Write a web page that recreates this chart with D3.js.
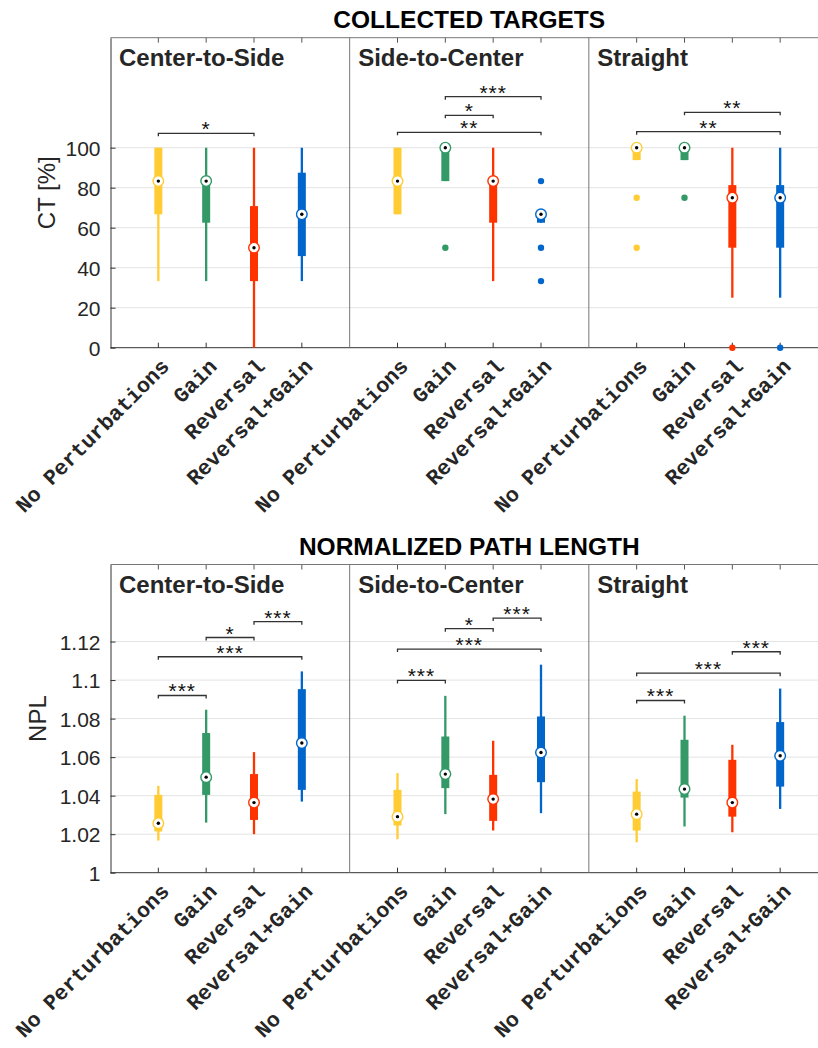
<!DOCTYPE html>
<html>
<head>
<meta charset="utf-8">
<script src="https://cdn.jsdelivr.net/npm/d3@7"></script>
<style>
  body { margin: 0; background: #fff; }
  text { font-family: "Liberation Sans", Arial, sans-serif; fill: #262626; }
  .xlab { font-family: "Liberation Mono", "Courier New", monospace; font-weight: bold; }
</style>
</head>
<body>
<div id="chart"></div>
<script>
const groups = ["Center-to-Side", "Side-to-Center", "Straight"];
const conditions = ["No Perturbations", "Gain", "Reversal", "Reversal+Gain"];
const colors = ["#ffcc33", "#339966", "#ff3300", "#0066cc"];

// collected targets (%), order: group by group, 4 conditions each
const ctLow    = [33.3, 33.3, 0, 33.3,   66.7, 83.3, 33.3, 62.5,   93.8, 93.8, 25, 25];
const ctQ1     = [66.7, 62.5, 33.3, 45.8, 66.7, 83.3, 62.5, 62.5,  93.8, 93.8, 50, 50];
const ctMedian = [83.3, 83.3, 50, 66.7,  83.3, 100, 83.3, 66.7,    100, 100, 75, 75];
const ctQ3     = [100, 83.3, 70.8, 87.5, 100, 100, 83.3, 66.7,     100, 100, 81.3, 81.3];
const ctHigh   = [100, 100, 100, 100,    100, 100, 100, 66.7,      100, 100, 100, 100];
const ctOutliers = [[], [], [], [],  [], [50], [], [83.3, 50, 33.3],  [75, 50], [75], [0], [0]];
const ctTicks = [0, 20, 40, 60, 80, 100];
// [group, from, to, level, label]
const ctSig = [
  [0, 0, 2, 107.2, "*"],
  [1, 1, 3, 125.5, "***"], [1, 1, 2, 116.2, "*"], [1, 0, 3, 107.7, "**"],
  [2, 1, 3, 117.7, "**"], [2, 0, 3, 108, "**"]
];

// normalized path length
const nplLow    = [1.0167, 1.026, 1.020, 1.0369,  1.0174, 1.0304, 1.0219, 1.0309,  1.0158, 1.024, 1.021, 1.0331];
const nplQ1     = [1.0214, 1.0404, 1.0274, 1.043, 1.0245, 1.0439, 1.0269, 1.047,   1.0219, 1.039, 1.0291, 1.0447];
const nplMedian = [1.0257, 1.0496, 1.0364, 1.0673, 1.0291, 1.0512, 1.0382, 1.0624, 1.0304, 1.0434, 1.0364, 1.0607];
const nplQ3     = [1.0404, 1.0725, 1.0512, 1.0953, 1.043, 1.0707, 1.0508, 1.0811,  1.0421, 1.069, 1.0586, 1.0782];
const nplHigh   = [1.0451, 1.0846, 1.0626, 1.1045, 1.0517, 1.0918, 1.0685, 1.108,  1.0486, 1.0815, 1.0664, 1.0956];
const nplOutliers = [[], [], [], [], [], [], [], [], [], [], [], []];
const nplTicks = [1, 1.02, 1.04, 1.06, 1.08, 1.1, 1.12];
const nplSig = [
  [0, 0, 1, 1.092, "***"], [0, 0, 3, 1.1121, "***"], [0, 1, 2, 1.1221, "*"], [0, 2, 3, 1.1303, "***"],
  [1, 0, 1, 1.0998, "***"], [1, 0, 3, 1.1161, "***"], [1, 1, 2, 1.1267, "*"], [1, 2, 3, 1.1322, "***"],
  [2, 0, 1, 1.0894, "***"], [2, 0, 3, 1.1036, "***"], [2, 2, 3, 1.1147, "***"]
];

const width = 818, height = 1048;

const svg = d3.select("#chart")
  .append("svg")
  .attr("width", width)
  .attr("height", height);

let x = d3.scaleLinear()
  .domain([-1, 14])
  .range([110.5, 828]);

const pos = i => Math.floor(i / 4) * 5 + (i % 4);

function panel(opt) {
  const g = svg.append("g");
  const y = d3.scaleLinear().domain(opt.domain).range([opt.bottom, opt.top]);
  const left = x(-1), right = x(14);

  // grid
  g.selectAll(".grid")
    .data(opt.ticks.slice(1))
    .join("line")
      .attr("x1", left).attr("x2", right)
      .attr("y1", d => y(d)).attr("y2", d => y(d))
      .attr("stroke", "#e3e3e3")
      .attr("stroke-width", 1);

  // y axis
  const yAxis = g.append("g")
    .attr("transform", `translate(${left},0)`)
    .call(d3.axisLeft(y).tickValues(opt.ticks).tickFormat(opt.format)
      .tickSize(-5).tickSizeOuter(0).tickPadding(10));
  yAxis.select(".domain").attr("stroke", "#333");
  yAxis.selectAll(".tick line").attr("stroke", "#333");
  yAxis.selectAll(".tick text")
    .style("font-size", "21px")
    .attr("fill", "#262626")
    .attr("dy", "0.36em");

  // x ticks bottom + top
  const catPos = d3.range(12).map(pos);
  g.selectAll(".xtb")
    .data(catPos)
    .join("line")
      .attr("x1", d => x(d)).attr("x2", d => x(d))
      .attr("y1", opt.bottom).attr("y2", opt.bottom - 5)
      .attr("stroke", "#333");
  g.selectAll(".xtt")
    .data(catPos)
    .join("line")
      .attr("x1", d => x(d)).attr("x2", d => x(d))
      .attr("y1", opt.top).attr("y2", opt.top + 5)
      .attr("stroke", "#555");

  // frame lines
  g.append("line").attr("x1", left).attr("x2", right)
    .attr("y1", opt.bottom).attr("y2", opt.bottom).attr("stroke", "#333");
  g.append("line").attr("x1", left).attr("x2", right)
    .attr("y1", opt.top).attr("y2", opt.top).attr("stroke", "#777");
  g.selectAll(".divider")
    .data([4, 9])
    .join("line")
      .attr("x1", d => x(d)).attr("x2", d => x(d))
      .attr("y1", opt.top).attr("y2", opt.bottom)
      .attr("stroke", "#777");

  // group names
  g.selectAll(".gname")
    .data(groups)
    .join("text")
      .attr("x", (d, i) => x(i * 5 - 1) + 8.5)
      .attr("y", opt.top + 28)
      .style("font-size", "24px")
      .style("font-weight", "bold")
      .text(d => d);

  // title
  g.append("text")
    .attr("x", (left + right) / 2)
    .attr("y", opt.top - 9.5)
    .attr("text-anchor", "middle")
    .style("font-size", "24.5px")
    .style("font-weight", "bold")
    .style("fill", "#000")
    .text(opt.title);

  // y label
  g.append("text")
    .attr("transform", `translate(${opt.labelX},${(opt.top + opt.bottom) / 2}) rotate(-90)`)
    .attr("text-anchor", "middle")
    .style("font-size", "24px")
    .text(opt.ylabel);

  // x labels
  g.selectAll(".xlab")
    .data(d3.range(12))
    .join("text")
      .attr("class", "xlab")
      .attr("text-anchor", "end")
      .attr("transform", i => `translate(${x(pos(i)) + 12},${opt.bottom + 20}) rotate(-45)`)
      .style("font-size", "21.5px")
      .text(i => conditions[i % 4]);

  // significance bars
  const sig = g.selectAll(".sig")
    .data(opt.sig)
    .join("g");
  sig.append("path")
    .attr("d", d => `M${x(d[0] * 5 + d[1])},${y(d[3]) + 3}V${y(d[3])}H${x(d[0] * 5 + d[2])}V${y(d[3]) + 3}`)
    .attr("fill", "none")
    .attr("stroke", "#333")
    .attr("stroke-width", 1.3);
  sig.append("text")
    .attr("x", d => (x(d[0] * 5 + d[1]) + x(d[0] * 5 + d[2])) / 2)
    .attr("y", d => y(d[3]) + 3)
    .attr("text-anchor", "middle")
    .style("font-size", "21px")
    .style("fill", "#111")
    .style("letter-spacing", "1px")
    .text(d => d[4]);

  // boxes
  const box = g.selectAll(".box")
    .data(d3.range(12))
    .join("g");
  box.append("line")
    .attr("x1", i => x(pos(i))).attr("x2", i => x(pos(i)))
    .attr("y1", i => y(opt.low[i])).attr("y2", i => y(opt.high[i]))
    .attr("stroke", i => colors[i % 4])
    .attr("stroke-width", 2.3);
  box.append("rect")
    .attr("x", i => x(pos(i)) - 4)
    .attr("width", 8)
    .attr("y", i => y(opt.q3[i]))
    .attr("height", i => Math.max(y(opt.q1[i]) - y(opt.q3[i]), 0))
    .attr("fill", i => colors[i % 4]);
  box.each(function (i) {
    d3.select(this).selectAll(".out")
      .data(opt.outliers[i])
      .join("circle")
        .attr("cx", x(pos(i)))
        .attr("cy", d => y(d))
        .attr("r", 3.2)
        .attr("fill", colors[i % 4]);
  });
  box.append("circle")
    .attr("cx", i => x(pos(i)))
    .attr("cy", i => y(opt.median[i]))
    .attr("r", 5.3)
    .attr("fill", "#fff")
    .attr("stroke", i => colors[i % 4])
    .attr("stroke-width", 1.4);
  box.append("circle")
    .attr("cx", i => x(pos(i)))
    .attr("cy", i => y(opt.median[i]))
    .attr("r", 1.7)
    .attr("fill", "#000");
}

svg.append("rect").attr("width", width).attr("height", height).attr("fill", "#fff").lower();

panel({
  title: "COLLECTED TARGETS", ylabel: "CT [%]",
  domain: [0, 155], top: 37.7, bottom: 347.7, labelX: 55,
  ticks: ctTicks, format: d => d,
  low: ctLow, q1: ctQ1, median: ctMedian, q3: ctQ3, high: ctHigh,
  outliers: ctOutliers, sig: ctSig
});

panel({
  title: "NORMALIZED PATH LENGTH", ylabel: "NPL",
  domain: [1, 1.16], top: 564.5, bottom: 872.7, labelX: 46,
  ticks: nplTicks, format: d => d3.format("")(+d.toFixed(2)),
  low: nplLow, q1: nplQ1, median: nplMedian, q3: nplQ3, high: nplHigh,
  outliers: nplOutliers, sig: nplSig
});
</script>
</body>
</html>
